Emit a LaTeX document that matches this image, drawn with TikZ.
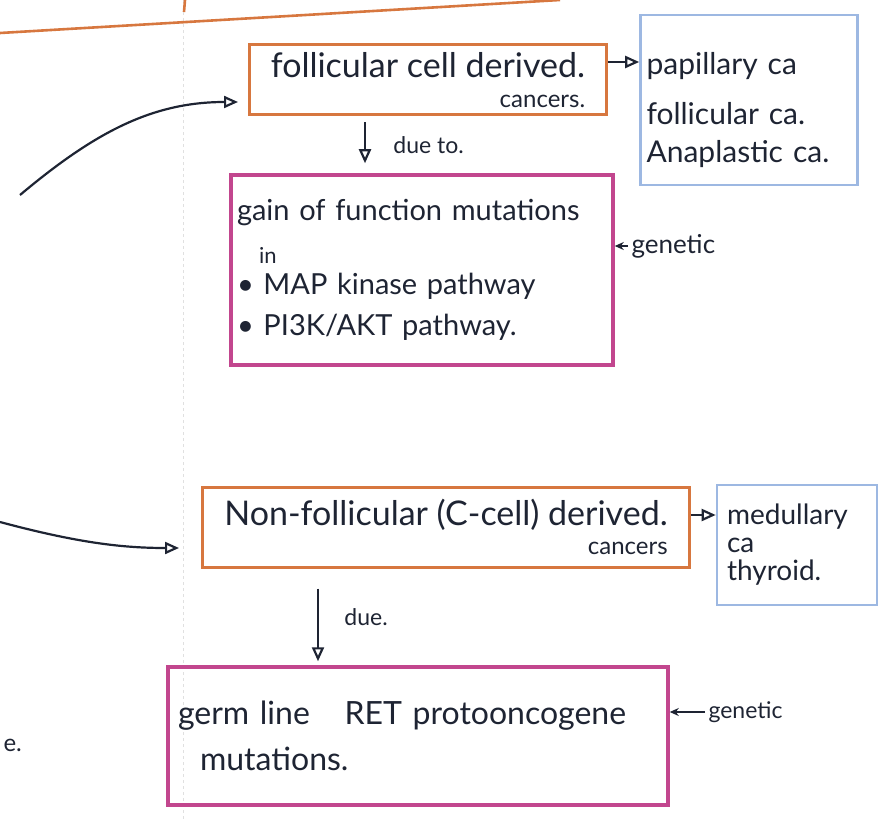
\documentclass[tikz,border=0pt]{standalone}
\usepackage{fontspec}
\setmainfont{Lato}
\usetikzlibrary{arrows.meta,positioning}
\definecolor{ink}{HTML}{1E2433}
\definecolor{ornge}{HTML}{D7773F}
\definecolor{pinkish}{HTML}{C2468E}
\definecolor{bluish}{HTML}{9DB8E2}
\newcommand{\fs}[1]{\fontsize{#1}{#1}\selectfont}
\begin{document}
\begin{tikzpicture}[x=1pt,y=-1pt,
  every node/.style={text=ink,font=\fs{32}},
  obox/.style={draw=ornge,line width=3pt,inner sep=4pt},
  pbox/.style={draw=pinkish,line width=3.5pt,inner sep=6pt},
  bbox/.style={draw=bluish,line width=2.6pt,inner sep=6pt},
  arr/.style={ink,line width=2.2pt,-{Triangle[open,length=14pt,width=12pt]}},
  larr/.style={ink,line width=1.8pt,-{Stealth[length=9pt,width=8pt]}}]
  \useasboundingbox (0,0) rectangle (882,821);
  % page margin and heading line
  \draw[black!12,line width=1pt,dashed] (183,0) -- (183,821);
  \draw[ornge,line width=2.6pt] (0,33) -- (560,0);
  \draw[ornge,line width=2.6pt] (185,0) -- (184,12);
  % first branch
  \node[obox,minimum width=357,minimum height=70,align=right,font=\fs{34}] (fol) at (428,80)
    {follicular cell derived.\\[-4pt]{\fs{24}cancers.}\hspace{16pt}};
  \node[bbox,minimum width=215,minimum height=170,text width=205,align=left,font=\fs{30}] (ca1) at (749,100)
    {\rule{0pt}{42pt}papillary ca\\[20pt]follicular ca.\\[8pt]Anaplastic ca.};
  \node[pbox,minimum width=380,minimum height=190,text width=370,align=left,font=\fs{29}] (gain) at (422,270)
    {gain of function mutations\\[14pt]
     \hspace{22pt}{\fs{22}in}\\[2pt]
     • MAP kinase pathway\\[12pt]
     • PI3K/AKT pathway.};
  \node[font=\fs{26},anchor=west] (gen1) at (628,246) {genetic};
  \coordinate (c1) at (20,195);
  \draw[arr] ([yshift=18pt]fol.east) -- ([yshift=18pt]fol.east -| ca1.west);
  \draw[arr,shorten <=6pt,shorten >=10pt] ([xshift=-63pt]fol.south) -- ([xshift=-63pt]fol.south |- gain.north)
    node[midway,right=24pt,font=\fs{23}] (due1) {due to.};
  \draw[larr] (gen1.west) -- (gen1.west -| gain.east);
  \draw[arr,shorten >=10pt] (c1) to[out=40,in=180] ([yshift=-22pt]fol.west);
  % second branch
  \node[obox,minimum width=487,minimum height=80,align=right,font=\fs{34}] (nonf) at (446,527)
    {Non-follicular (C-cell) derived.\\[-5pt]{\fs{24}cancers}\hspace{36pt}};
  \node[bbox,minimum width=160,minimum height=120,text width=140,align=left,font=\fs{28}] (ca2) at (797,545)
    {medullary\\ca\\thyroid.};
  \node[pbox,minimum width=500,minimum height=138,text width=480,align=left] (germ) at (418,736)
    {germ line \hspace{24pt}RET protooncogene\\[14pt]\hspace{22pt}mutations.};
  \node[font=\fs{23},anchor=west] (gen2) at (705,712) {genetic};
  \coordinate (c2) at (0,522);
  \draw[arr] ([yshift=12pt]nonf.east) -- ([yshift=12pt]nonf.east -| ca2.west);
  \draw[arr,shorten <=20pt,shorten >=4pt] ([xshift=-128pt]nonf.south) -- ([xshift=-128pt]nonf.south |- germ.north)
    node[midway,right=22pt,font=\fs{23}] (due2) {due.};
  \draw[larr] (gen2.west) -- (gen2.west -| germ.east);
  \draw[arr,shorten >=22pt] (c2) to[out=-15,in=180] ([yshift=-21pt]nonf.west);
  \node[font=\fs{24},anchor=west] (edot) at (0,745) {e.};
\end{tikzpicture}
\end{document}
